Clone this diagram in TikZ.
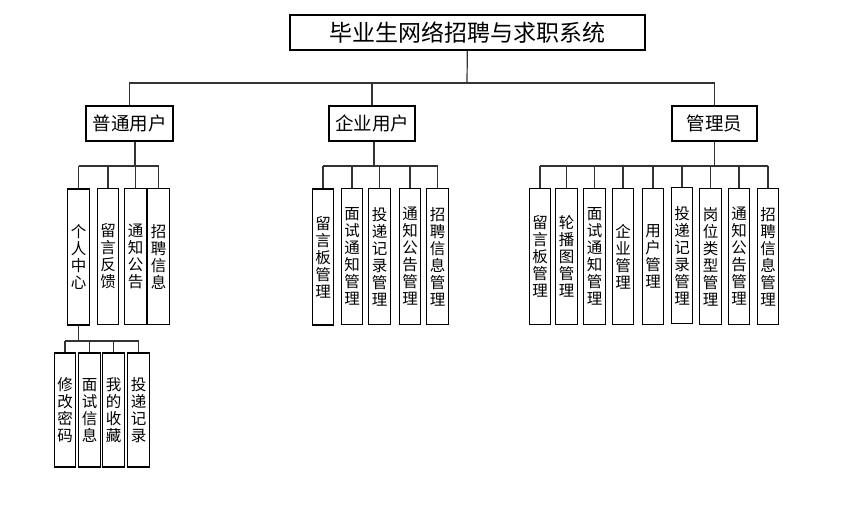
\documentclass[tikz,border=0pt]{standalone}
\usepackage{fontspec}
\setmainfont{Noto Sans CJK SC}
\usetikzlibrary{positioning}

\begin{document}
\begin{tikzpicture}[x=1pt,y=-1pt,
  box/.style={draw,line width=1.2pt,inner sep=0pt,minimum height=35pt,font=\fontsize{18.5}{20}\selectfont},
  leaf/.style={draw,line width=1.2pt,inner sep=0pt,minimum width=21.5pt,minimum height=136pt,align=center,font=\fontsize{15.5}{17}\selectfont},
  subleaf/.style={leaf,minimum height=114pt},
  wire/.style={draw=black!80,line width=1.2pt}]
\useasboundingbox (0,0) rectangle (860,506);
% top
\node[box,minimum width=355pt,font=\fontsize{23}{26}\selectfont] (sys) at (467.5,32.5) {毕业生网络招聘与求职系统};
\node[box,minimum width=87pt] (user) at (129.5,123.5) {普通用户};
\node[box,minimum width=86pt] (corp) at (372,123.5) {企业用户};
\node[box,minimum width=85pt] (admin) at (714.5,123.5) {管理员};
\coordinate (top) at (467,83);
\draw[wire] (sys) -- (top);
\draw[wire] (user.north) -- (user.north|-top) -- (admin.north|-top) -- (admin.north);
\draw[wire] (corp.north) -- (corp.north|-top);
% branch lines
\coordinate (br) at (0,166);
\coordinate (sbr) at (0,341);
% normal user
\node[leaf] (u1) at (78.5,257) {个\\人\\中\\心};
\node[leaf] (u2) at (108,256.5) {留\\言\\反\\馈};
\node[leaf] (u3) at (135.5,256.5) {通\\知\\公\\告};
\node[leaf] (u4) at (158.5,256.5) {招\\聘\\信\\息};
\draw[wire] ([xshift=5.5pt]user.south) -- ([xshift=5.5pt]user.south|-br);
\draw[wire] (u1.north|-br) -- (u4.north|-br);
\foreach \n in {u1,u2,u3,u4} \draw[wire] (\n.north) -- (\n.north|-br);
% personal centre
\node[subleaf] (p1) at (65,410) {修\\改\\密\\码};
\node[subleaf] (p2) at (89.5,410) {面\\试\\信\\息};
\node[subleaf] (p3) at (113.5,410) {我\\的\\收\\藏};
\node[subleaf] (p4) at (138.5,410) {投\\递\\记\\录};
\draw[wire] (u1.south) -- (u1.south|-sbr);
\draw[wire] (p1.north|-sbr) -- (p4.north|-sbr);
\foreach \n in {p1,p2,p3,p4} \draw[wire] (\n.north) -- (\n.north|-sbr);
% company user
\node[leaf] (c1) at (323,257) {留\\言\\板\\管\\理};
\node[leaf] (c2) at (352,256.5) {面\\试\\通\\知\\管\\理};
\node[leaf] (c3) at (379.5,256.5) {投\\递\\记\\录\\管\\理};
\node[leaf] (c4) at (410,256.5) {通\\知\\公\\告\\管\\理};
\node[leaf] (c5) at (437.5,256.5) {招\\聘\\信\\息\\管\\理};
\draw[wire] ([xshift=2pt]corp.south) -- ([xshift=2pt]corp.south|-br);
\draw[wire] (c1.north|-br) -- (c5.north|-br);
\foreach \n in {c1,c2,c3,c4,c5} \draw[wire] (\n.north) -- (\n.north|-br);
% admin
\node[leaf] (a1) at (540,256.5) {留\\言\\板\\管\\理};
\node[leaf] (a2) at (566.5,256.5) {轮\\播\\图\\管\\理};
\node[leaf] (a3) at (594.5,256.5) {面\\试\\通\\知\\管\\理};
\node[leaf] (a4) at (623,256.5) {企\\业\\管\\理};
\node[leaf] (a5) at (653,256.5) {用\\户\\管\\理};
\node[leaf] (a6) at (682,255.5) {投\\递\\记\\录\\管\\理};
\node[leaf] (a7) at (710.5,256.5) {岗\\位\\类\\型\\管\\理};
\node[leaf] (a8) at (739,256.5) {通\\知\\公\\告\\管\\理};
\node[leaf] (a9) at (768,256.5) {招\\聘\\信\\息\\管\\理};
\draw[wire] (admin.south) -- (admin.south|-br);
\draw[wire] (a1.north|-br) -- (a9.north|-br);
\foreach \n in {a1,a2,a3,a4,a5,a6,a7,a8,a9} \draw[wire] (\n.north) -- (\n.north|-br);
\end{tikzpicture}
\end{document}
